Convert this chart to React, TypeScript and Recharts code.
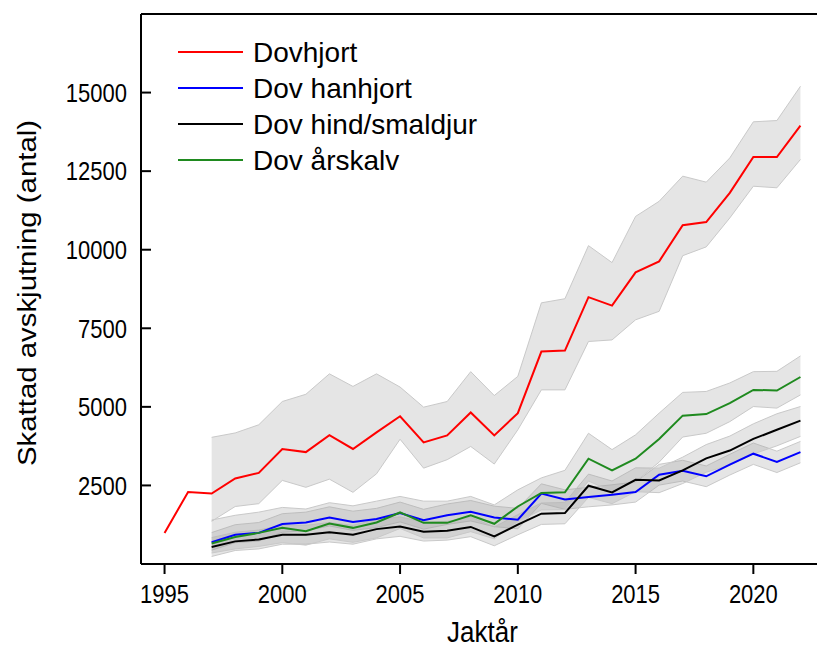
import { ComposedChart, Line, Area, XAxis, YAxis, Label, ReferenceLine } from 'recharts'

const years = [1995, 1996, 1997, 1998, 1999, 2000, 2001, 2002, 2003, 2004, 2005, 2006, 2007, 2008, 2009, 2010, 2011, 2012, 2013, 2014, 2015, 2016, 2017, 2018, 2019, 2020, 2021, 2022]
const xTicks = [1995, 2000, 2005, 2010, 2015, 2020]
const yTicks = [2500, 5000, 7500, 10000, 12500, 15000]

// Dovhjort (all fallow deer), 1995-2022; interval only from 1997
const red = [990, 2290, 2240, 2720, 2900, 3660, 3560, 4100, 3660, 4190, 4700, 3870, 4090, 4820, 4090, 4800, 6760, 6790, 8490, 8220, 9280, 9630, 10780, 10880, 11810, 12950, 12950, 13950]
const redLo = [null, null, 1360, 1830, 1920, 2660, 2440, 2700, 2280, 2870, 3970, 3050, 3320, 3740, 3180, 4270, 5540, 5540, 7080, 7130, 7770, 8040, 9810, 10090, 11010, 12020, 11970, 12870]
const redHi = [null, null, 4030, 4170, 4430, 5170, 5400, 6050, 5650, 6050, 5630, 4990, 5170, 6120, 5360, 5970, 8310, 8440, 10130, 9590, 11060, 11540, 12340, 12150, 12920, 14070, 14110, 15200]

// the rest start in 1997
const blue = [690, 930, 990, 1270, 1320, 1480, 1340, 1430, 1620, 1390, 1550, 1660, 1480, 1410, 2240, 2050, 2130, 2200, 2290, 2840, 2970, 2790, 3160, 3510, 3250, 3560]
const blueLo = [440, 680, 730, 1010, 1060, 1210, 1070, 1160, 1340, 1110, 1260, 1370, 1190, 1120, 1930, 1740, 1820, 1880, 1970, 2510, 2640, 2460, 2830, 3170, 2910, 3220]
const blueHi = [1000, 1250, 1320, 1600, 1650, 1820, 1680, 1770, 1970, 1740, 1910, 2020, 1840, 1770, 2550, 2360, 2440, 2520, 2610, 3170, 3300, 3120, 3490, 3850, 3590, 3900]

const black = [540, 720, 780, 930, 930, 1010, 930, 1110, 1190, 1030, 1060, 1180, 880, 1250, 1600, 1620, 2490, 2280, 2680, 2660, 2980, 3360, 3610, 3980, 4270, 4560]
const blackLo = [240, 430, 480, 630, 630, 700, 630, 800, 880, 730, 760, 870, 580, 930, 1260, 1280, 2120, 1920, 2300, 2270, 2560, 2920, 3150, 3500, 3760, 4060]
const blackHi = [840, 1010, 1080, 1230, 1230, 1320, 1230, 1420, 1500, 1330, 1360, 1490, 1180, 1570, 1940, 1960, 2860, 2640, 3060, 3050, 3400, 3800, 4070, 4460, 4780, 5010]

const green = [650, 860, 990, 1150, 1040, 1290, 1150, 1320, 1640, 1310, 1310, 1550, 1280, 1830, 2260, 2280, 3350, 2980, 3350, 3980, 4720, 4770, 5120, 5540, 5520, 5950]
const greenLo = [350, 480, 560, 680, 600, 800, 690, 830, 1130, 830, 830, 1030, 800, 1350, 1720, 1730, 2640, 2310, 2630, 3240, 4040, 4160, 4530, 5010, 4960, 5380]
const greenHi = [1400, 1550, 1650, 1800, 1750, 1950, 1850, 2000, 2150, 2000, 2000, 2150, 1880, 2360, 2740, 2980, 4160, 3640, 4110, 4800, 5460, 5490, 5760, 6120, 6130, 6620]

const series = [
  { key: 'red', name: 'Dovhjort', color: '#ff0000' },
  { key: 'blue', name: 'Dov hanhjort', color: '#0000ff' },
  { key: 'black', name: 'Dov hind/smaldjur', color: '#000000' },
  { key: 'green', name: 'Dov årskalv', color: '#1f8a1f' },
]

const FONT = '"Liberation Sans", Arial, sans-serif'

const rows = years.map((year, i) => {
  const j = i - 2
  const late = j >= 0
  return {
    year,
    red: red[i],
    redBand: redLo[i] != null ? [redLo[i], redHi[i]] : null,
    blue: late ? blue[j] : null,
    blueBand: late ? [blueLo[j], blueHi[j]] : null,
    black: late ? black[j] : null,
    blackBand: late ? [blackLo[j], blackHi[j]] : null,
    green: late ? green[j] : null,
    greenBand: late ? [greenLo[j], greenHi[j]] : null,
  }
})

// axis text in the original is a bit taller than wide, hence the scale
const YTick = (props: any) => {
  const { x, y, payload } = props
  return (
    <text transform={`translate(${x},${y}) scale(1,1.18)`} textAnchor="end" dy="0.36em" fontSize={22} fontFamily={FONT} fill="#000">
      {payload.value}
    </text>
  )
}

const XTick = (props: any) => {
  const { x, y, payload } = props
  return (
    <text transform={`translate(${x},${y}) scale(1,1.18)`} textAnchor="middle" dy="0.71em" fontSize={22} fontFamily={FONT} fill="#000">
      {payload.value}
    </text>
  )
}

const NoTick = () => <g />

const YTitle = (props: any) => {
  const { viewBox } = props
  const cy = viewBox.y + viewBox.height / 2 + 4
  return (
    <text transform={`translate(36,${cy}) scale(1,1.13) rotate(-90)`} textAnchor="middle" fontSize={26} fontFamily={FONT} fill="#000">
      Skattad avskjutning (antal)
    </text>
  )
}

const XTitle = (props: any) => {
  const { viewBox } = props
  const cx = viewBox.x + viewBox.width / 2
  return (
    <text transform={`translate(${cx},${viewBox.y + 78}) scale(1,1.15)`} textAnchor="middle" fontSize={26} fontFamily={FONT} fill="#000">
      Jaktår
    </text>
  )
}

export default function App() {
  return (
    <div style={{ position: 'absolute', left: 0, top: 0, width: 817, height: 648, overflow: 'hidden', background: '#fff' }}>
      <ComposedChart width={844} height={648} data={rows} margin={{ top: 14, right: 0, bottom: 0, left: 0 }}>
        <XAxis
          dataKey="year"
          type="number"
          domain={[1994, 2023]}
          ticks={xTicks}
          allowDataOverflow
          height={84}
          tick={<XTick />}
          tickSize={10}
          tickMargin={11}
          axisLine={{ stroke: '#000', strokeWidth: 2 }}
          tickLine={{ stroke: '#000', strokeWidth: 2 }}
        >
          <Label content={<XTitle />} />
        </XAxis>
        <YAxis
          domain={[0, 17500]}
          ticks={yTicks}
          allowDataOverflow
          width={141}
          tick={<YTick />}
          tickSize={-10}
          tickMargin={24}
          axisLine={{ stroke: '#000', strokeWidth: 2 }}
          tickLine={{ stroke: '#000', strokeWidth: 2 }}
        >
          <Label content={<YTitle />} />
        </YAxis>
        <YAxis
          yAxisId="right"
          orientation="right"
          domain={[0, 17500]}
          ticks={yTicks}
          width={20}
          tick={<NoTick />}
          tickSize={-10}
          axisLine={{ stroke: '#000', strokeWidth: 2 }}
          tickLine={{ stroke: '#000', strokeWidth: 2 }}
        />
        <ReferenceLine y={17500} stroke="#000" strokeWidth={2} ifOverflow="visible" />
        {series.map(s => (
          <Area
            key={s.key + 'Band'}
            dataKey={s.key + 'Band'}
            type="linear"
            fill="#a0a0a0"
            fillOpacity={0.27}
            stroke="#c9c9c9"
            strokeWidth={1}
            isAnimationActive={false}
          />
        ))}
        {series.map(s => (
          <Line
            key={s.key}
            dataKey={s.key}
            type="linear"
            stroke={s.color}
            strokeWidth={2}
            dot={false}
            isAnimationActive={false}
          />
        ))}
      </ComposedChart>
      <div style={{ position: 'absolute', left: 0, top: 0, fontFamily: FONT, fontSize: 28, color: '#000' }}>
        {series.map((s, i) => (
          <div key={s.key} style={{ position: 'absolute', left: 178, top: 35 + 36 * i, height: 36, lineHeight: '36px', whiteSpace: 'nowrap' }}>
            <span style={{ position: 'absolute', left: 0, top: 16, width: 65, height: 2, background: s.color }} />
            <span style={{ position: 'absolute', left: 75, top: 0 }}>{s.name}</span>
          </div>
        ))}
      </div>
    </div>
  )
}
